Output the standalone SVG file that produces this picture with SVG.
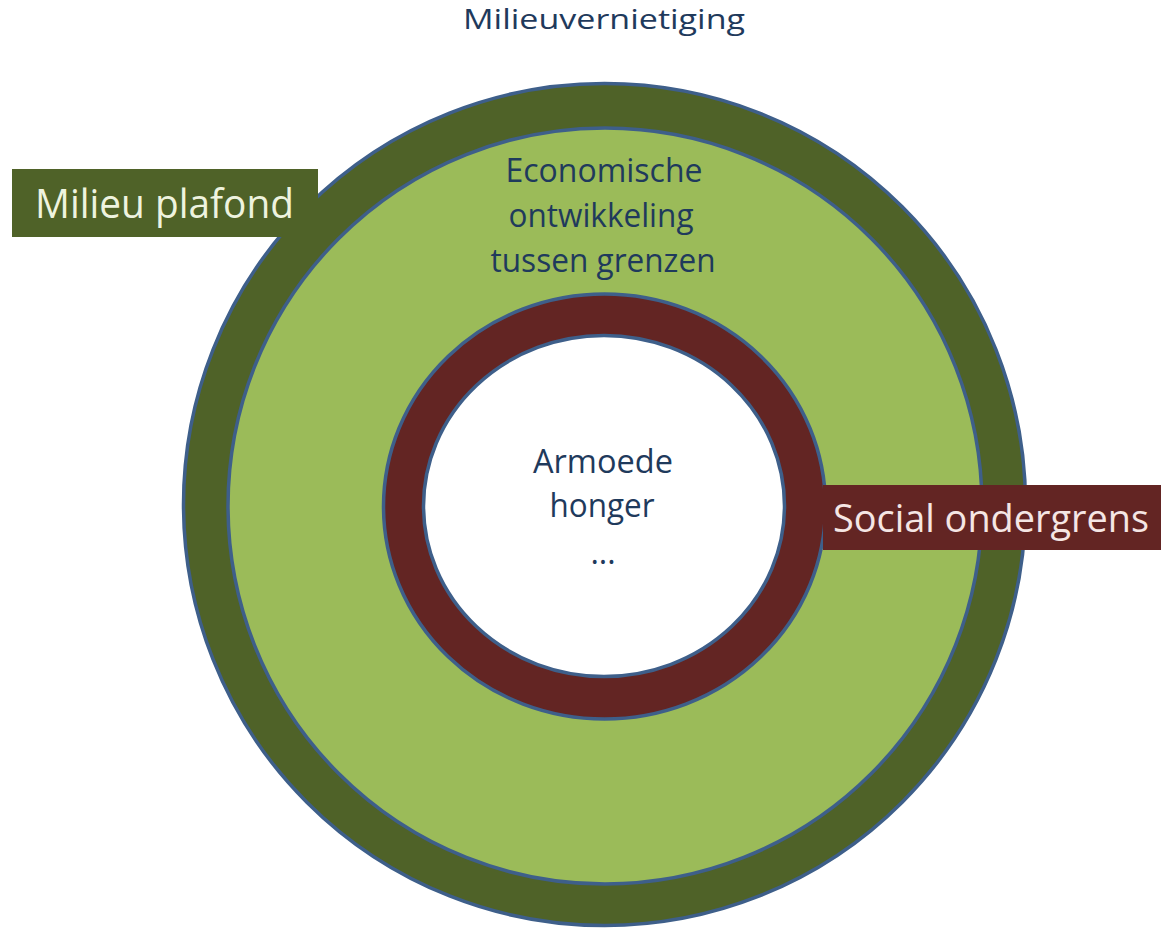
<svg xmlns="http://www.w3.org/2000/svg" width="1161" height="930" viewBox="0 0 1161 930">
<style>
.t{font-family:"Open Sans","Liberation Sans",sans-serif;fill:#1F3A5C;text-anchor:middle}
.lbl{font-family:"Open Sans","Liberation Sans",sans-serif}
.ring{stroke:#3E5F8A;stroke-width:3.5}
</style>
<rect width="1161" height="930" fill="#ffffff"/>
<g id="outer">
<ellipse class="ring" cx="604.5" cy="504.5" rx="421" ry="421" fill="#4F6228"/>
</g>
<g id="milieu-plafond">
<rect x="12" y="169" width="306" height="68" fill="#4F6228"/>
<text class="lbl" x="35" y="218" font-size="41" fill="#EEF3DF" textLength="259" lengthAdjust="spacingAndGlyphs">Milieu plafond</text>
</g>
<g id="middle">
<ellipse class="ring" cx="605" cy="506" rx="377" ry="378" fill="#9BBB59"/>
<text class="t" font-size="32"><tspan x="604" y="182" textLength="197" lengthAdjust="spacingAndGlyphs">Economische</tspan><tspan x="601" y="227" textLength="185" lengthAdjust="spacingAndGlyphs">ontwikkeling</tspan><tspan x="603" y="272" textLength="225" lengthAdjust="spacingAndGlyphs">tussen grenzen</tspan></text>
</g>
<g id="social-ring">
<ellipse class="ring" cx="604.5" cy="506.5" rx="221" ry="212.5" fill="#632523"/>
<ellipse class="ring" cx="604" cy="506" rx="180.5" ry="170.5" fill="#ffffff"/>
<text class="t" font-size="32"><tspan x="603" y="473" textLength="140" lengthAdjust="spacingAndGlyphs">Armoede</tspan><tspan x="602" y="517" textLength="105" lengthAdjust="spacingAndGlyphs">honger</tspan><tspan x="603" y="564">...</tspan></text>
</g>
<g id="social-ondergrens">
<rect x="823" y="485" width="338" height="65" fill="#632523"/>
<text class="lbl" x="833" y="532" font-size="39" fill="#F5E6E4" textLength="316" lengthAdjust="spacingAndGlyphs">Social ondergrens</text>
</g>
<g id="title">
<text class="t" x="604" y="29" font-size="28" textLength="282" lengthAdjust="spacingAndGlyphs">Milieuvernietiging</text>
</g>
<g id="connectors"/>
</svg>
